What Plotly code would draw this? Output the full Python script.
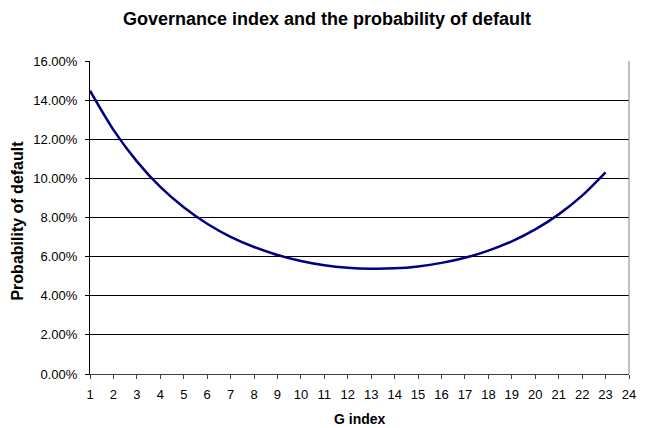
import plotly.graph_objects as go

# G index values and the estimated probability of default at each one
g_index = list(range(1, 24))
prob_default = [
    0.1448, 0.1248, 0.1087, 0.0956, 0.0852, 0.0768, 0.0701, 0.0649,
    0.0608, 0.0578, 0.0556, 0.0543, 0.0538, 0.0540, 0.0550, 0.0568,
    0.0594, 0.0631, 0.0678, 0.0739, 0.0816, 0.0912, 0.1031,
]

x_ticks = list(range(1, 25))
y_ticks = [0.0, 0.02, 0.04, 0.06, 0.08, 0.10, 0.12, 0.14, 0.16]

font_family = "Liberation Sans, Arial, sans-serif"

W, H = 648, 428
M_L, M_R, M_T, M_B = 90, 12, 61, 54

fig = go.Figure()
fig.add_trace(go.Scatter(
    x=g_index,
    y=prob_default,
    mode="lines",
    line=dict(color="#000080", width=2.5, shape="spline", smoothing=0.8),
    hoverinfo="x+y",
))

fig.update_layout(
    width=W,
    height=H,
    paper_bgcolor="white",
    plot_bgcolor="white",
    showlegend=False,
    margin=dict(l=M_L, r=M_R, t=M_T, b=M_B),
    title=dict(
        text="<b>Governance index and the probability of default</b>",
        x=327 / W, xanchor="center", xref="container",
        y=1 - 19 / H, yanchor="middle", yref="container",
        font=dict(family=font_family, size=18, color="black"),
    ),
    xaxis=dict(
        range=[1, 24],
        tickvals=x_ticks,
        ticktext=[str(v) for v in x_ticks],
        ticks="outside", ticklen=4, tickcolor="#404040", tickwidth=1,
        ticklabelstandoff=4,
        showline=True, linecolor="#404040", linewidth=1, mirror=False,
        showgrid=False, zeroline=False,
        tickfont=dict(family=font_family, size=13, color="black"),
    ),
    yaxis=dict(
        range=[0, 0.16],
        tickvals=y_ticks,
        tickformat=".2%",
        ticks="outside", ticklen=4, tickcolor="black", tickwidth=1,
        ticklabelstandoff=5,
        showline=True, linecolor="black", linewidth=1,
        showgrid=True, gridcolor="black", gridwidth=1,
        zeroline=False,
        tickfont=dict(family=font_family, size=13, color="black"),
    ),
    shapes=[
        dict(type="line", xref="paper", yref="paper", x0=1, x1=1, y0=0, y1=1,
             line=dict(color="#808080", width=1)),
    ],
    annotations=[
        dict(text="<b>G index</b>", xref="paper", yref="paper",
             x=0.5, y=-(419 - (H - M_B)) / (H - M_T - M_B),
             xanchor="center", yanchor="middle", showarrow=False,
             font=dict(family=font_family, size=14, color="black")),
        dict(text="<b>Probability of default</b>", xref="paper", yref="paper",
             x=-(M_L - 17) / (W - M_L - M_R), y=0.49, textangle=-90,
             xanchor="center", yanchor="middle", showarrow=False,
             font=dict(family=font_family, size=16, color="black")),
    ],
)

fig.write_html("out.html")
